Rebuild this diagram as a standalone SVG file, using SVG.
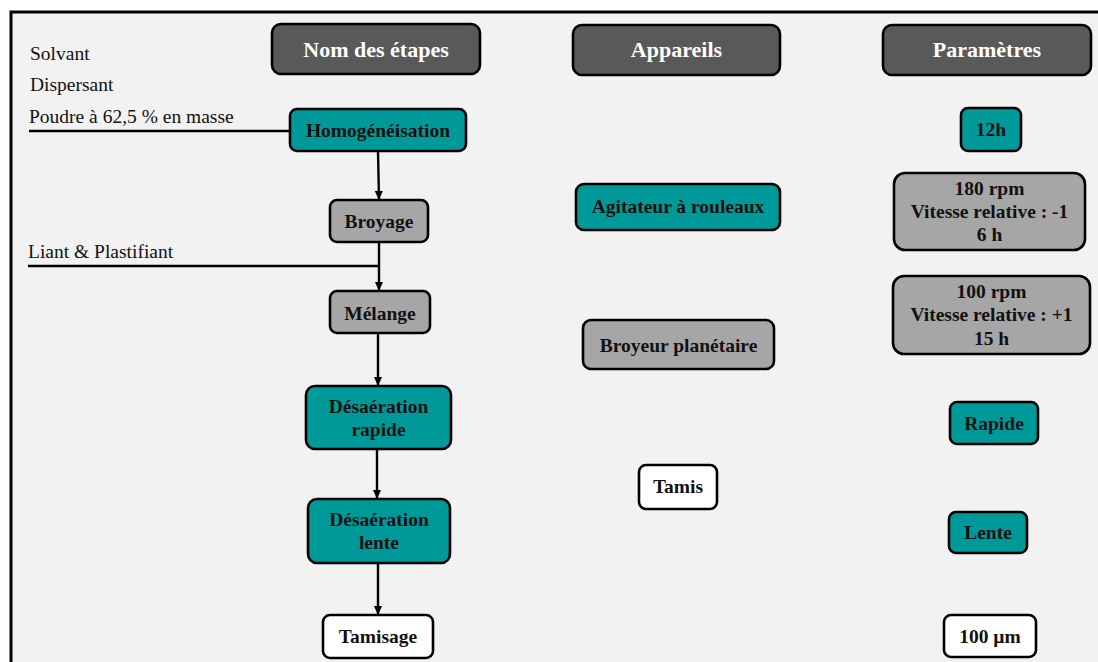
<svg xmlns="http://www.w3.org/2000/svg" width="1098" height="662" viewBox="0 0 1098 662">
<style>
.node{stroke:#000;stroke-width:2.6}
.teal{fill:#009999}
.gray{fill:#a6a6a6}
.white{fill:#ffffff}
.head{fill:#595959}
.t{font-family:"Liberation Serif","Times New Roman",serif;font-weight:bold;font-size:19.5px;fill:#111;text-anchor:middle}
.h{font-family:"Liberation Serif","Times New Roman",serif;font-weight:bold;font-size:22px;fill:#fff;text-anchor:middle}
.l{font-family:"Liberation Serif","Times New Roman",serif;font-size:19.5px;fill:#111}
.c{stroke:#000;stroke-width:2.4;fill:none}
</style>
<defs>
<marker id="arr" markerUnits="userSpaceOnUse" markerWidth="9" markerHeight="8" refX="9" refY="4" orient="auto">
<path d="M0,0 L9,4 L0,8 z" fill="#000"/>
</marker>
</defs>
<rect x="0" y="0" width="1098" height="662" fill="#ffffff"/>
<rect id="frame" x="11" y="12" width="1100" height="660" fill="#f2f2f2" stroke="#000" stroke-width="3"/>

<g id="inputs">
<text class="l" x="30" y="60">Solvant</text>
<text class="l" x="30" y="91">Dispersant</text>
<text class="l" x="29" y="123">Poudre à 62,5 % en masse</text>
<text class="l" x="28" y="258">Liant &amp; Plastifiant</text>
</g>

<g id="connectors">
<line class="c" x1="29" y1="131" x2="290" y2="131"/>
<line class="c" x1="28" y1="266" x2="379" y2="266"/>
<line class="c" x1="378" y1="151" x2="379" y2="200" marker-end="url(#arr)"/>
<line class="c" x1="379" y1="242" x2="379" y2="291" marker-end="url(#arr)"/>
<line class="c" x1="378" y1="333" x2="378" y2="386" marker-end="url(#arr)"/>
<line class="c" x1="377" y1="449" x2="377" y2="499" marker-end="url(#arr)"/>
<line class="c" x1="378" y1="563" x2="378" y2="615" marker-end="url(#arr)"/>
</g>

<g id="h-etapes"><rect class="node head" x="272" y="24" width="208" height="50" rx="9"/><text class="h" x="376" y="57">Nom des étapes</text></g>
<g id="h-appareils"><rect class="node head" x="573" y="25" width="207" height="50" rx="9"/><text class="h" x="676.5" y="57">Appareils</text></g>
<g id="h-parametres"><rect class="node head" x="883" y="25" width="208" height="50" rx="9"/><text class="h" x="987" y="57">Paramètres</text></g>

<g id="homogeneisation"><rect class="node teal" x="290" y="109" width="176" height="42" rx="7"/><text class="t" x="378" y="137">Homogénéisation</text></g>
<g id="broyage"><rect class="node gray" x="330" y="200" width="98" height="42" rx="7"/><text class="t" x="379" y="228">Broyage</text></g>
<g id="melange"><rect class="node gray" x="330" y="291" width="100" height="42" rx="7"/><text class="t" x="380" y="320">Mélange</text></g>
<g id="desaeration-rapide"><rect class="node teal" x="306" y="386" width="145" height="63" rx="9"/><text class="t" x="378.5" y="413">Désaération</text><text class="t" x="378.5" y="436">rapide</text></g>
<g id="desaeration-lente"><rect class="node teal" x="308" y="499" width="142" height="64" rx="9"/><text class="t" x="379" y="526">Désaération</text><text class="t" x="379" y="549">lente</text></g>
<g id="tamisage"><rect class="node white" x="323" y="615" width="110" height="43" rx="7"/><text class="t" x="378" y="643">Tamisage</text></g>

<g id="agitateur"><rect class="node teal" x="576" y="184" width="204" height="46" rx="8"/><text class="t" x="678" y="213">Agitateur à rouleaux</text></g>
<g id="broyeur"><rect class="node gray" x="583" y="320" width="191" height="49" rx="8"/><text class="t" x="678.5" y="352">Broyeur planétaire</text></g>
<g id="tamis"><rect class="node white" x="639" y="465" width="78" height="44" rx="7"/><text class="t" x="678" y="493">Tamis</text></g>

<g id="p-12h"><rect class="node teal" x="961" y="108" width="60" height="43" rx="7"/><text class="t" x="991" y="136">12h</text></g>
<g id="p-180"><rect class="node gray" x="894" y="173" width="191" height="77" rx="11"/><text class="t" x="989.5" y="195">180 rpm</text><text class="t" x="989.5" y="218">Vitesse relative : -1</text><text class="t" x="989.5" y="241">6 h</text></g>
<g id="p-100"><rect class="node gray" x="893" y="276" width="197" height="78" rx="11"/><text class="t" x="991.5" y="298">100 rpm</text><text class="t" x="991.5" y="321">Vitesse relative : +1</text><text class="t" x="991.5" y="345">15 h</text></g>
<g id="p-rapide"><rect class="node teal" x="950" y="402" width="88" height="42" rx="7"/><text class="t" x="994" y="430">Rapide</text></g>
<g id="p-lente"><rect class="node teal" x="949" y="512" width="78" height="41" rx="7"/><text class="t" x="988" y="539">Lente</text></g>
<g id="p-100um"><rect class="node white" x="944" y="615" width="92" height="42" rx="7"/><text class="t" x="990" y="643">100 µm</text></g>
</svg>
